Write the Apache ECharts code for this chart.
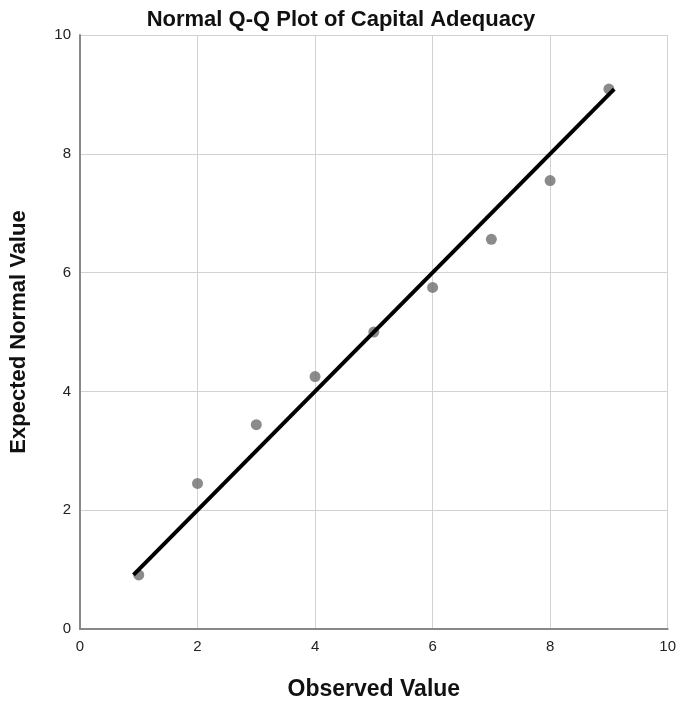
<!DOCTYPE html>
<html>
<head>
<meta charset="utf-8">
<script src="https://cdn.jsdelivr.net/npm/echarts@6/dist/echarts.min.js"></script>
<style>
  html, body { margin: 0; padding: 0; background: #fff; }
  #chart { width: 679px; height: 706px; }
</style>
</head>
<body>
<div id="chart"></div>
<script>
// observed vs expected normal values
const observed = [1, 2, 3, 4, 5, 6, 7, 8, 9];
const expected = [0.91, 2.45, 3.44, 4.25, 5.0, 5.75, 6.56, 7.55, 9.09];
// reference line y = x over the expected range
const refLine = [[0.91, 0.91], [9.09, 9.09]];

const chart = echarts.init(document.getElementById('chart'));
const font = 'Liberation Sans, Arial, sans-serif';

chart.setOption({
  animation: false,
  title: {
    text: 'Normal Q-Q Plot of Capital Adequacy',
    left: 336,
    textAlign: 'center',
    top: 4,
    textStyle: { fontFamily: font, fontSize: 22, fontWeight: 'bold', color: '#111' }
  },
  grid: { left: 80, top: 35, right: 7, bottom: 76 },
  xAxis: {
    type: 'value',
    min: 0, max: 10, interval: 2,
    name: 'Observed Value',
    nameLocation: 'middle',
    nameGap: 49,
    nameTextStyle: { fontFamily: font, fontSize: 23, fontWeight: 'bold', color: '#111' },
    axisLine: { show: true, lineStyle: { color: '#888', width: 2 } },
    axisTick: { show: false },
    axisLabel: { fontFamily: font, fontSize: 15, color: '#222', margin: 10 },
    splitLine: { show: true, lineStyle: { color: '#d2d2d2', width: 1 } }
  },
  yAxis: {
    type: 'value',
    min: 0, max: 10, interval: 2,
    name: 'Expected Normal Value',
    nameLocation: 'middle',
    nameGap: 50,
    nameTextStyle: { fontFamily: font, fontSize: 22, fontWeight: 'bold', color: '#111' },
    axisLine: { show: true, lineStyle: { color: '#888', width: 2 } },
    axisTick: { show: false },
    axisLabel: { fontFamily: font, fontSize: 15, color: '#222', margin: 9 },
    splitLine: { show: true, lineStyle: { color: '#d2d2d2', width: 1 } }
  },
  series: [
    {
      type: 'scatter',
      symbolSize: 11,
      itemStyle: { color: '#6e6e6e' },
      data: observed.map((x, i) => [x, expected[i]]),
      z: 2
    },
    {
      type: 'line',
      data: refLine,
      showSymbol: false,
      lineStyle: { color: '#000', width: 4 },
      z: 3
    }
  ]
});
</script>
</body>
</html>
